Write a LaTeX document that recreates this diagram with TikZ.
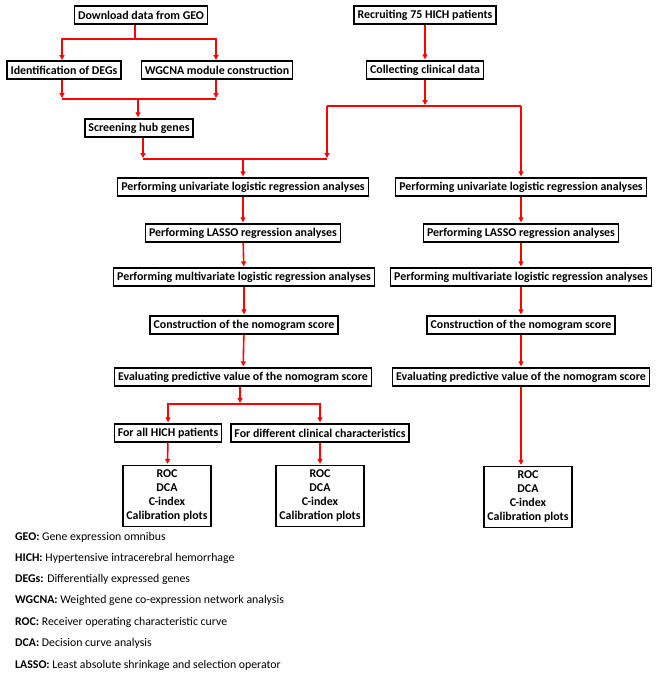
\documentclass[tikz,border=0pt]{standalone}
\usepackage{fontspec}
\setmainfont{Carlito}
\usetikzlibrary{arrows.meta}
\begin{document}
\begin{tikzpicture}[x=1pt,y=-1pt,
  box/.style={draw=black,line width=1.4pt,font=\fontsize{11.9}{13}\selectfont\bfseries,inner xsep=3.5pt,inner ysep=0pt,minimum height=18pt},
  mbox/.style={draw=black,line width=1.4pt,font=\fontsize{11.9}{14}\selectfont\bfseries,align=center,minimum width=88pt,minimum height=61pt,inner sep=2pt},
  rl/.style={draw=red,line width=1.6pt},
  ra/.style={rl,-{Triangle[length=5pt,width=5pt]},shorten >=1pt},
  leg/.style={anchor=west,font=\fontsize{11.8}{13}\selectfont,inner sep=0pt}]
\useasboundingbox (0,0) rectangle (656,675);
% left top
\node[box] (dl) at (141,15) {Download data from GEO};
\node[box] (deg) at (64,70) {Identification of DEGs};
\node[box] (wg) at (217,70) {WGCNA module construction};
\node[box] (hub) at (139,128) {Screening hub genes};
% right top
\node[box] (rec) at (425,15) {Recruiting 75 HICH patients};
\node[box] (col) at (425,70) {Collecting clinical data};
% left column
\node[box] (uL) at (243,187) {Performing univariate logistic regression analyses};
\node[box] (lL) at (243,233) {Performing LASSO regression analyses};
\node[box] (mL) at (244,277) {Performing multivariate logistic regression analyses};
\node[box] (cL) at (244,325) {Construction of the nomogram score};
\node[box] (eL) at (243,377) {Evaluating predictive value of the nomogram score};
\node[box] (fa) at (168,433) {For all HICH patients};
\node[box] (fd) at (320,433) {For different clinical characteristics};
\node[mbox] (r1) at (167,496) {ROC\\DCA\\C-index\\Calibration plots};
\node[mbox] (r2) at (320,496) {ROC\\DCA\\C-index\\Calibration plots};
% right column
\node[box] (uR) at (521,187) {Performing univariate logistic regression analyses};
\node[box] (lR) at (521,233) {Performing LASSO regression analyses};
\node[box] (mR) at (521,277) {Performing multivariate logistic regression analyses};
\node[box] (cR) at (521,325) {Construction of the nomogram score};
\node[box] (eR) at (521,377) {Evaluating predictive value of the nomogram score};
\node[mbox] (r3) at (528,497) {ROC\\DCA\\C-index\\Calibration plots};
% connectors top-left
\coordinate (j1) at (135,39);
\draw[rl] (dl.south -| j1) -- (j1);
\draw[ra] (j1) -| (62,61);
\draw[ra] (j1) -| (216,61);
\coordinate (j2) at (138,99);
\draw[ra] (deg.south -| 62,0) -- (62,99);
\draw[ra] (wg.south -| 216,0) -- (216,99);
\draw[rl] (62,99) -- (216,99);
\draw[ra] (j2) -- (hub.north -| j2);
% hub to merge
\coordinate (j3) at (143,159);
\coordinate (j4) at (327,159);
\coordinate (j5) at (243,159);
\draw[ra] (hub.south -| j3) -- (j3);
\draw[rl] (j3) -- (j4);
% right top
\draw[ra] (rec) -- (col);
\coordinate (j6) at (425,106);
\draw[ra] (col) -- (j6);
\draw[rl] (327,106) -- (521,106);
\draw[ra] (327,106) -- (j4);
\draw[ra] (521,106) -- (uR.north);
\draw[ra] (j5) -- (uL.north);
% left column chain
\draw[ra] (uL) -- (lL);
\draw[ra] (lL) -- (mL);
\draw[ra] (mL) -- (cL);
\draw[ra] (cL) -- (eL);
\coordinate (j7) at (240,404);
\draw[ra] (eL.south -| j7) -- (j7);
\draw[ra] (j7) -| (fa.north);
\draw[ra] (j7) -| (fd.north);
\draw[ra] (fa) -- (r1);
\draw[ra] (fd) -- (r2);
% right column chain
\draw[ra] (uR) -- (lR);
\draw[ra] (lR) -- (mR);
\draw[ra] (mR) -- (cR);
\draw[ra] (cR) -- (eR);
\draw[ra] (eR.south) -- (r3.north -| eR);
% legend
\node[leg] (g1) at (15,537) {\textbf{GEO:} Gene expression omnibus};
\node[leg] (g2) at (15,558) {\textbf{HICH:} Hypertensive intracerebral hemorrhage};
\node[leg] (g3) at (15,579) {\textbf{DEGs:} Differentially expressed genes};
\node[leg] (g4) at (15,600) {\textbf{WGCNA:} Weighted gene co-expression network analysis};
\node[leg] (g5) at (15,622) {\textbf{ROC:} Receiver operating characteristic curve};
\node[leg] (g6) at (15,643) {\textbf{DCA:} Decision curve analysis};
\node[leg] (g7) at (15,665) {\textbf{LASSO:} Least absolute shrinkage and selection operator};
\end{tikzpicture}
\end{document}
